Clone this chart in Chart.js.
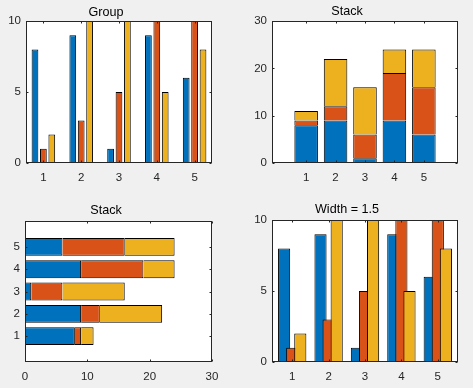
<!DOCTYPE html>
<html>
<head>
<meta charset="utf-8">
<script src="https://cdn.jsdelivr.net/npm/chart.js@4.4.1/dist/chart.umd.min.js"></script>
<style>
  html, body { margin: 0; padding: 0; background: #f0f0f0; }
  #fig { position: relative; width: 473px; height: 388px; overflow: hidden; }
  canvas { position: absolute; }
</style>
</head>
<body>
<div id="fig">
  <canvas id="ax1" width="236" height="195" style="left:0;top:0"></canvas>
  <canvas id="ax2" width="237" height="195" style="left:236px;top:0"></canvas>
  <canvas id="ax3" width="236" height="193" style="left:0;top:195px"></canvas>
  <canvas id="ax4" width="237" height="193" style="left:236px;top:195px"></canvas>
</div>
<script>
// data
var cats = [1, 2, 3, 4, 5];
var blueVals = [8, 9, 1, 9, 6];
var redVals = [1, 3, 5, 10, 10];
var yellowVals = [2, 10, 10, 5, 8];
var seriesColors = ['#0072BD', '#D95319', '#EDB120'];
var groupTicks = [0, 5, 10];
var stackTicks = [0, 10, 20, 30];

Chart.defaults.font.family = '"Liberation Sans", Arial, Helvetica, sans-serif';

// matlab look: white axes, later series drawn on top, box + inward ticks
var matlabAxes = {
    id: 'matlabAxes',
    beforeDraw: function(chart) {
        var a = chart.chartArea;
        chart.ctx.save();
        chart.ctx.fillStyle = '#fff';
        chart.ctx.fillRect(a.left, a.top, a.right - a.left, a.bottom - a.top);
        chart.ctx.restore();
    },
    beforeDatasetsDraw: function(chart) {
        if (typeof chart._drawDataset !== 'function') return;
        var metas = chart.getSortedVisibleDatasetMetas();
        for (var i = 0; i < metas.length; i++) chart._drawDataset(metas[i]);
        return false;
    },
    afterDraw: function(chart) {
        var ctx = chart.ctx, a = chart.chartArea;
        var xs = chart.scales.x, ys = chart.scales.y;
        var l = Math.round(a.left) + 0.5, r = Math.round(a.right) - 0.5;
        var t = Math.round(a.top) + 0.5, b = Math.round(a.bottom) - 0.5;
        var tl = 2;
        ctx.save();
        ctx.strokeStyle = '#262626';
        ctx.lineWidth = 1;
        ctx.beginPath();
        xs.ticks.forEach(function(tk) {
            var px = Math.round(xs.getPixelForValue(tk.value)) + 0.5;
            ctx.moveTo(px, b); ctx.lineTo(px, b - tl);
            ctx.moveTo(px, t); ctx.lineTo(px, t + tl);
        });
        ys.ticks.forEach(function(tk) {
            var py = Math.round(ys.getPixelForValue(tk.value)) + 0.5;
            ctx.moveTo(l, py); ctx.lineTo(l + tl, py);
            ctx.moveTo(r, py); ctx.lineTo(r - tl, py);
        });
        ctx.stroke();
        ctx.strokeRect(l, t, r - l, b - t);
        ctx.restore();
    }
};

function points(vals, horiz) {
    return cats.map(function(c, i) {
        return horiz ? { x: vals[i], y: c } : { x: c, y: vals[i] };
    });
}

function makeDatasets(horiz, catPct, barPct) {
    return [blueVals, redVals, yellowVals].map(function(v, k) {
        return {
            data: points(v, horiz),
            backgroundColor: seriesColors[k],
            borderColor: '#000',
            borderWidth: 1,
            categoryPercentage: catPct,
            barPercentage: barPct
        };
    });
}

function axis(horizontal, min, max, tickVals, size, stacked) {
    return {
        type: 'linear',
        min: min, max: max,
        offset: false,
        stacked: stacked,
        grid: { display: false, drawTicks: false, offset: false },
        border: { display: false },
        ticks: { font: { size: 11.5 }, color: '#262626', padding: horizontal ? 7.5 : 5 },
        afterBuildTicks: function(s) {
            s.ticks = tickVals.map(function(v) { return { value: v }; });
        },
        afterFit: function(s) {
            if (horizontal) s.height = size; else s.width = size;
        }
    };
}

function draw(id, cfg) {
    new Chart(document.getElementById(id), {
        type: 'bar',
        data: { datasets: makeDatasets(cfg.horiz, cfg.catPct, cfg.barPct) },
        options: {
            responsive: false,
            animation: false,
            indexAxis: cfg.horiz ? 'y' : 'x',
            layout: { autoPadding: false, padding: { left: 0, top: 0, bottom: 0, right: cfg.padRight } },
            plugins: {
                legend: { display: false },
                tooltip: { enabled: false },
                title: {
                    display: true, text: cfg.title, color: '#000',
                    font: { size: 12.6, weight: 'normal' },
                    padding: { top: cfg.titleTop, bottom: cfg.titleBottom }
                }
            },
            scales: { x: cfg.x, y: cfg.y }
        },
        plugins: [matlabAxes]
    });
}

draw('ax1', {
    title: 'Group', horiz: false, catPct: 0.667, barPct: 0.8,
    padRight: 24, titleTop: 4.5, titleBottom: 1.4,
    x: axis(true, 0.54, 5.46, cats, 32, false),
    y: axis(false, 0, 10, groupTicks, 26, false)
});

draw('ax2', {
    title: 'Stack', horiz: false, catPct: 1, barPct: 0.8,
    padRight: 15, titleTop: 4.2, titleBottom: 1.7,
    x: axis(true, -0.16, 6.16, cats, 32, true),
    y: axis(false, 0, 30, stackTicks, 36, true)
});

draw('ax3', {
    title: 'Stack', horiz: true, catPct: 1, barPct: 0.8,
    padRight: 24, titleTop: 7.7, titleBottom: 3.2,
    x: axis(true, 0, 30, stackTicks, 26, true),
    y: axis(false, -0.16, 6.16, cats, 25, true)
});

draw('ax4', {
    title: 'Width = 1.5', horiz: false, catPct: 0.667, barPct: 1.5,
    padRight: 15, titleTop: 7.4, titleBottom: 2.5,
    x: axis(true, 0.445, 5.555, cats, 26, false),
    y: axis(false, 0, 10, groupTicks, 36, false)
});
</script>
</body>
</html>
